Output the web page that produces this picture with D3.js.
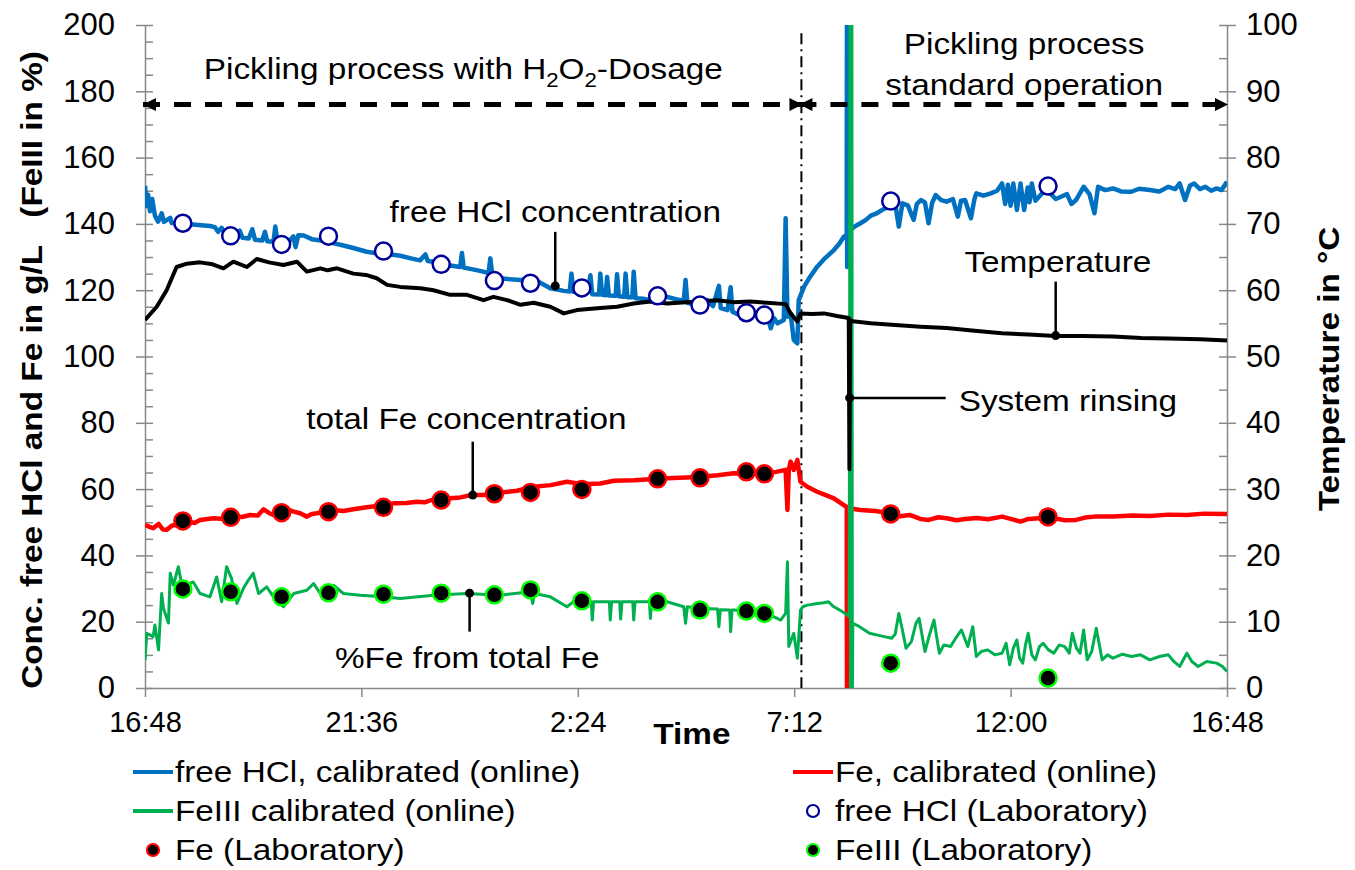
<!DOCTYPE html>
<html>
<head>
<meta charset="utf-8">
<script src="https://cdn.jsdelivr.net/npm/d3@7"></script>
<style>
  body { margin: 0; background: #fff; }
  svg { font-family: "Liberation Sans", Arial, sans-serif; }
</style>
</head>
<body>
<svg id="chart" width="1355" height="870"></svg>
<script>
// time is in hours after 16:48 (start of the run)
const timeTicks = [0, 4.8, 9.6, 14.4, 19.2, 24];
const timeLabels = ["16:48", "21:36", "2:24", "7:12", "12:00", "16:48"];

// online signals [hours, value]
const hclOnline = [[0.00,151.5],[0.03,145.5],[0.07,148.8],[0.11,143.8],[0.16,147.5],[0.22,142.5],[0.29,140.7],[0.37,143.2],[0.42,140.6],[0.56,141.8],[0.59,140.3],[0.80,140.2],[1.00,139.9],[1.44,139.4],[1.55,139.0],[1.62,137.6],[1.70,138.8],[1.76,137.2],[1.95,136.1],[2.10,138.0],[2.16,135.8],[2.30,135.6],[2.38,138.4],[2.44,135.2],[2.60,135.0],[2.66,137.6],[2.71,134.8],[2.85,134.6],[2.89,139.2],[2.94,134.4],[3.15,134.0],[3.29,136.2],[3.34,133.0],[3.40,136.6],[3.52,136.5],[3.70,135.4],[3.95,134.9],[4.17,134.2],[4.40,133.5],[4.60,132.8],[4.92,131.6],[5.20,131.0],[5.45,130.8],[5.66,130.4],[5.90,129.6],[6.10,129.0],[6.22,130.8],[6.27,128.8],[6.40,128.6],[6.70,127.6],[6.99,127.0],[7.03,131.2],[7.07,126.8],[7.30,126.2],[7.50,125.6],[7.62,125.2],[7.66,129.6],[7.70,124.8],[7.88,123.6],[8.10,123.3],[8.33,123.1],[8.62,123.5],[8.80,122.0],[8.99,120.6],[9.29,119.8],[9.42,119.6],[9.46,125.0],[9.50,119.5],[9.81,119.2],[9.88,124.5],[9.92,118.8],[10.07,118.7],[10.10,125.0],[10.14,118.6],[10.22,118.5],[10.25,124.0],[10.29,118.4],[10.44,118.3],[10.47,124.8],[10.51,118.2],[10.63,118.0],[10.66,125.0],[10.70,117.9],[10.81,117.9],[10.84,125.6],[10.88,117.6],[11.05,117.4],[11.21,117.0],[11.40,117.8],[11.58,118.0],[11.80,117.2],[11.95,116.8],[11.99,123.1],[12.03,116.2],[12.20,115.6],[12.32,115.0],[12.47,117.0],[12.60,115.2],[12.73,121.3],[12.77,114.6],[12.92,114.0],[12.99,120.9],[13.03,113.5],[13.20,112.4],[13.43,112.0],[13.60,112.8],[13.80,112.5],[13.88,108.5],[13.95,111.6],[14.03,110.0],[14.17,111.0],[14.21,141.7],[14.25,112.0],[14.32,113.0],[14.39,105.0],[14.47,104.0],[14.50,117.0],[14.62,121.1],[14.75,124.0],[14.91,127.1],[15.05,129.2],[15.28,132.1],[15.40,134.0],[15.50,136.1],[15.565,136.8],[15.57,205],[15.575,127.0],[15.59,137.5],[15.74,139.2],[15.87,140.2],[15.99,141.2],[16.10,142.5],[16.23,143.2],[16.40,144.6],[16.56,145.7],[16.65,145.2],[16.72,139.2],[16.80,146.2],[16.92,145.6],[17.05,141.2],[17.12,146.0],[17.21,147.2],[17.30,146.5],[17.38,140.2],[17.46,146.4],[17.54,148.7],[17.66,147.2],[17.78,146.7],[17.92,147.5],[18.03,142.2],[18.10,147.0],[18.19,147.2],[18.32,141.7],[18.40,147.6],[18.44,149.2],[18.60,148.5],[18.76,149.2],[18.90,150.0],[19.01,152.2],[19.08,146.0],[19.14,151.8],[19.20,145.5],[19.26,152.2],[19.34,144.2],[19.42,152.2],[19.50,144.2],[19.58,151.0],[19.62,146.5],[19.67,152.2],[19.75,147.0],[19.83,148.2],[19.95,150.0],[20.08,149.2],[20.20,147.5],[20.32,148.2],[20.45,149.0],[20.55,146.0],[20.65,147.2],[20.82,151.2],[20.95,149.0],[21.06,143.2],[21.14,151.2],[21.30,150.2],[21.47,150.7],[21.65,149.8],[21.88,149.7],[22.05,150.6],[22.29,150.2],[22.50,149.8],[22.70,151.2],[22.85,150.5],[22.95,152.2],[23.07,147.2],[23.18,151.6],[23.27,152.2],[23.40,150.5],[23.52,151.2],[23.65,150.0],[23.77,150.7],[23.88,150.2],[24.00,152.7]];

const feOnline = [[0.00,49.2],[0.10,48.6],[0.18,48.2],[0.30,49.5],[0.40,47.8],[0.48,47.7],[0.60,49.0],[0.70,49.2],[0.93,50.2],[1.10,49.8],[1.22,50.7],[1.52,51.2],[1.75,51.0],[1.96,51.7],[2.15,51.6],[2.33,52.2],[2.50,52.0],[2.63,53.9],[2.75,52.8],[2.85,52.2],[3.00,53.0],[3.15,53.9],[3.30,53.2],[3.44,52.7],[3.59,51.7],[3.70,52.5],[3.81,52.7],[4.00,53.2],[4.18,53.7],[4.40,53.4],[4.62,53.9],[4.92,54.5],[5.20,55.0],[5.51,55.7],[5.80,55.8],[6.03,56.2],[6.20,56.0],[6.40,56.9],[6.70,57.2],[6.99,57.5],[7.25,58.2],[7.51,58.2],[7.90,59.0],[8.25,59.5],[8.62,60.7],[9.00,61.2],[9.36,62.2],[9.70,61.5],[10.10,61.7],[10.40,62.5],[10.84,62.7],[11.20,63.0],[11.58,63.3],[12.00,63.5],[12.32,63.7],[12.70,64.2],[13.06,64.8],[13.40,64.6],[13.80,64.9],[14.00,65.2],[14.21,65.8],[14.25,53.7],[14.28,65.8],[14.32,68.3],[14.39,65.8],[14.47,68.8],[14.54,62.2],[14.69,60.7],[14.91,59.2],[15.10,58.2],[15.28,57.2],[15.45,55.6],[15.565,54.6],[15.57,0],[15.575,54.3],[15.87,53.7],[16.20,53.4],[16.54,52.7],[16.75,51.8],[16.96,52.2],[17.20,51.0],[17.38,50.7],[17.60,51.5],[17.78,51.2],[18.00,50.6],[18.19,51.0],[18.45,51.3],[18.70,50.9],[19.01,51.7],[19.20,51.0],[19.42,50.2],[19.60,51.0],[19.83,51.2],[20.10,51.4],[20.40,50.6],[20.65,50.7],[20.85,51.4],[21.06,51.7],[21.47,51.7],[21.90,52.0],[22.29,51.9],[22.70,52.3],[23.11,52.2],[23.50,52.6],[24.00,52.5]];

const fe3Online = [[0.00,8.4],[0.04,16.5],[0.18,15.5],[0.22,19.0],[0.30,11.5],[0.37,28.5],[0.41,24.0],[0.52,19.6],[0.56,34.6],[0.63,31.0],[0.74,36.6],[0.81,31.5],[0.93,31.2],[1.07,32.0],[1.22,28.5],[1.44,27.5],[1.59,33.5],[1.70,26.0],[1.81,36.6],[1.92,33.0],[2.04,25.5],[2.18,30.0],[2.29,32.5],[2.40,34.6],[2.52,28.5],[2.70,30.5],[2.85,27.5],[3.07,24.5],[3.30,28.5],[3.59,29.5],[3.74,31.5],[3.89,28.5],[4.18,31.0],[4.40,28.5],[4.77,28.0],[5.29,27.5],[5.66,27.0],[6.40,28.0],[7.14,28.5],[7.88,28.0],[8.55,29.0],[8.60,25.5],[8.64,28.5],[8.99,27.5],[9.36,24.5],[9.50,26.0],[9.73,25.5],[9.90,26.0],[9.92,20.5],[9.95,26.0],[10.30,26.0],[10.32,20.5],[10.35,26.0],[10.53,26.0],[10.55,20.8],[10.58,26.0],[10.82,26.0],[10.84,20.5],[10.87,26.0],[11.19,26.0],[11.21,21.0],[11.24,26.0],[11.58,26.0],[11.95,24.5],[11.99,19.5],[12.03,24.5],[12.32,24.0],[12.70,23.8],[12.73,18.5],[12.76,23.6],[12.97,23.5],[12.99,17.0],[13.02,23.5],[13.06,23.5],[13.80,22.5],[14.10,20.5],[14.21,22.5],[14.25,38.1],[14.28,12.5],[14.39,16.5],[14.47,9.0],[14.54,23.5],[14.59,24.5],[14.69,25.0],[14.92,25.5],[15.06,25.7],[15.16,26.0],[15.28,24.5],[15.41,23.5],[15.58,22.0],[15.62,21.5],[15.64,205],[15.65,-5],[15.66,205],[15.67,-5],[15.68,205],[15.69,-5],[15.70,19.5],[15.85,18.5],[16.07,16.5],[16.30,15.8],[16.56,15.0],[16.64,16.2],[16.72,22.5],[16.80,17.5],[16.88,12.0],[17.00,14.0],[17.10,19.5],[17.17,21.0],[17.30,11.0],[17.40,16.0],[17.50,20.5],[17.62,10.5],[17.72,13.0],[17.87,12.5],[17.98,15.0],[18.11,17.5],[18.25,12.5],[18.36,18.5],[18.44,9.5],[18.55,11.0],[18.69,11.5],[18.85,10.0],[19.01,10.5],[19.10,13.5],[19.18,7.0],[19.26,12.0],[19.34,14.5],[19.40,9.0],[19.47,7.5],[19.53,13.0],[19.59,16.5],[19.67,10.0],[19.75,8.5],[19.84,12.5],[19.92,13.5],[20.04,11.5],[20.16,10.5],[20.28,13.0],[20.40,12.5],[20.50,10.5],[20.57,16.5],[20.66,12.0],[20.74,10.5],[20.82,17.5],[20.90,8.5],[21.00,11.0],[21.10,18.0],[21.23,8.5],[21.35,10.0],[21.47,9.0],[21.68,10.2],[21.88,9.5],[22.08,10.0],[22.29,8.5],[22.50,9.5],[22.70,10.0],[22.82,8.0],[22.95,6.5],[23.11,10.5],[23.22,8.0],[23.36,6.5],[23.55,8.0],[23.77,7.5],[23.90,6.5],[24.00,5.0]];

// temperature in °C (right axis)
const tempOnline = [[0.00,55.5],[0.26,57.5],[0.48,60.0],[0.70,63.5],[0.93,64.0],[1.22,64.2],[1.50,63.9],[1.74,63.3],[1.96,64.3],[2.26,63.5],[2.48,64.7],[2.75,64.2],[3.07,63.8],[3.37,64.3],[3.59,62.8],[3.89,63.3],[4.05,63.0],[4.26,63.3],[4.62,62.5],[4.90,62.3],[5.14,61.8],[5.37,60.8],[5.66,60.5],[6.11,60.3],[6.40,60.0],[6.77,59.3],[7.14,59.3],[7.51,58.5],[7.73,59.0],[8.03,58.5],[8.33,57.8],[8.62,58.1],[8.99,57.5],[9.29,56.5],[9.58,57.0],[10.10,57.3],[10.47,57.5],[10.84,58.0],[11.21,58.3],[11.58,58.0],[12.00,58.2],[12.32,58.3],[12.69,58.5],[13.05,58.2],[13.43,58.3],[13.80,58.1],[14.21,57.9],[14.32,56.5],[14.47,55.3],[14.54,56.5],[14.80,56.4],[15.06,56.5],[15.35,56.1],[15.61,55.8],[15.625,33.0],[15.64,55.5],[15.70,55.3],[16.10,55.0],[16.56,54.8],[17.20,54.5],[17.78,54.3],[18.40,53.9],[19.01,53.5],[19.60,53.3],[20.20,53.1],[20.80,53.1],[21.47,53.0],[22.10,52.8],[22.70,52.7],[23.40,52.6],[24.00,52.4]];

// laboratory samples
const labTimes = [0.84, 1.90, 3.03, 4.07, 5.29, 6.57, 7.75, 8.55, 9.69, 11.37, 12.31, 13.34, 13.74, 16.54, 20.03];
const hclLab = [140.2, 136.4, 133.8, 136.3, 131.8, 127.8, 122.9, 122.1, 120.7, 118.3, 115.5, 113.2, 112.5, 146.9, 151.4];
const feLab = [50.4, 51.5, 52.9, 53.2, 54.5, 56.7, 58.6, 59.0, 59.9, 63.1, 63.4, 65.2, 64.6, 52.5, 51.6];
const fe3Lab = [29.9, 29.0, 27.5, 28.7, 28.3, 28.6, 28.1, 29.6, 26.3, 26.0, 23.5, 23.2, 22.5, 7.5, 3.0];

// phase boundary (dash-dot line) and arrow level
const phaseSwitch = 14.56;
const arrowLevel = 176;

const W = 1355, H = 870;
const margin = { top: 25, right: 128, bottom: 182, left: 145 };
const width = W - margin.left - margin.right;
const height = H - margin.top - margin.bottom;
const axisGrey = "#898989";
const stretch = 1.11;

const svg = d3.select("#chart");
const g = svg.append("g").attr("transform", `translate(${margin.left},${margin.top})`);

const x = d3.scaleLinear().domain([0, 24]).range([0, width]);
const yL = d3.scaleLinear().domain([0, 200]).range([height, 0]);
const yR = d3.scaleLinear().domain([0, 100]).range([height, 0]);

// stretch text sideways, the original lettering is a bit wider than Arial
function widen(sel, k = stretch) {
    sel.each(function () {
        const len = this.getComputedTextLength();
        d3.select(this).attr("textLength", len * k).attr("lengthAdjust", "spacingAndGlyphs");
    });
}

function styleAxis(ax, size) {
    ax.selectAll(".domain").attr("stroke", axisGrey).attr("stroke-width", 1.5);
    ax.selectAll(".tick line").attr("stroke", axisGrey).attr("stroke-width", 1.5);
    ax.selectAll("text").attr("fill", "#000").style("font-size", size + "px")
        .style("font-family", "'Liberation Sans', Arial, sans-serif");
}

// left axis
const axL = g.append("g").call(d3.axisLeft(yL).tickValues(d3.range(0, 201, 20))
    .tickSizeInner(9).tickSizeOuter(0).tickPadding(21));
styleAxis(axL, 31);
const axLm = g.append("g").call(d3.axisRight(yL).tickValues(d3.range(0, 201, 5))
    .tickSize(8).tickFormat(""));
axLm.select(".domain").remove();
styleAxis(axLm, 31);

// right axis
const axR = g.append("g").attr("transform", `translate(${width},0)`)
    .call(d3.axisRight(yR).tickValues(d3.range(0, 101, 10))
        .tickSizeInner(9).tickSizeOuter(0).tickPadding(10));
styleAxis(axR, 31);
const axRm = g.append("g").attr("transform", `translate(${width},0)`)
    .call(d3.axisLeft(yR).tickValues(d3.range(0, 101, 5)).tickSize(8).tickFormat(""));
axRm.select(".domain").remove();
styleAxis(axRm, 31);

// time axis
const axB = g.append("g").attr("transform", `translate(0,${height})`)
    .call(d3.axisBottom(x).tickValues(timeTicks).tickFormat((d, i) => timeLabels[i])
        .tickSizeInner(9).tickSizeOuter(0).tickPadding(14));
styleAxis(axB, 29);

// axis titles
const lt = g.append("text")
    .attr("transform", `translate(${42 - margin.left},${370 - margin.top}) rotate(-90)`)
    .attr("text-anchor", "middle").style("font-size", "30px").style("font-weight", "bold")
    .style("white-space", "pre")
    .text("Conc. free HCl and Fe in g/L   (FeIII in %)");
widen(lt);
const rt = g.append("text")
    .attr("transform", `translate(${1339 - margin.left},${369 - margin.top}) rotate(-90)`)
    .attr("text-anchor", "middle").style("font-size", "30px").style("font-weight", "bold")
    .text("Temperature in °C");
widen(rt);
const bt = g.append("text")
    .attr("x", x(12.13)).attr("y", height + 56)
    .attr("text-anchor", "middle").style("font-size", "30px").style("font-weight", "bold")
    .text("Time");
widen(bt);

// plot clip
svg.append("defs").append("clipPath").attr("id", "plotClip")
    .append("rect").attr("width", width).attr("height", height);

const lineL = d3.line().x((d) => x(d[0])).y((d) => yL(d[1]));
const lineR = d3.line().x((d) => x(d[0])).y((d) => yR(d[1]));

const plot = g.append("g").attr("clip-path", "url(#plotClip)");

// phase boundary
plot.append("line")
    .attr("x1", x(phaseSwitch)).attr("x2", x(phaseSwitch))
    .attr("y1", yL(197.5)).attr("y2", height)
    .attr("stroke", "#000").attr("stroke-width", 2).attr("stroke-dasharray", "11,5,2,5");

const series = [
    { data: hclOnline, color: "#0070C0", w: 4.5, line: lineL },
    { data: feOnline, color: "#FF0000", w: 4.5, line: lineL },
    { data: fe3Online, color: "#00B050", w: 3, line: lineL },
    { data: tempOnline, color: "#000000", w: 4, line: lineR }
];
series.forEach((s) => {
    plot.append("path").datum(s.data)
        .attr("fill", "none").attr("stroke", s.color).attr("stroke-width", s.w)
        .attr("stroke-linejoin", "round").attr("d", s.line);
});

// dashed double arrows
const defs = svg.select("defs");
defs.append("marker").attr("id", "arrowEnd").attr("viewBox", "0 0 10 10")
    .attr("refX", 10).attr("refY", 5).attr("markerWidth", 3).attr("markerHeight", 2.6)
    .attr("orient", "auto").attr("markerUnits", "strokeWidth")
    .append("path").attr("d", "M0,0L10,5L0,10Z").attr("fill", "#000");
defs.append("marker").attr("id", "arrowStart").attr("viewBox", "0 0 10 10")
    .attr("refX", 0).attr("refY", 5).attr("markerWidth", 3).attr("markerHeight", 2.6)
    .attr("orient", "auto").attr("markerUnits", "strokeWidth")
    .append("path").attr("d", "M10,0L0,5L10,10Z").attr("fill", "#000");

[[0, phaseSwitch], [phaseSwitch, 24]].forEach(([a, b]) => {
    g.append("line")
        .attr("x1", x(a) - 2).attr("x2", x(b) + 1)
        .attr("y1", yL(arrowLevel)).attr("y2", yL(arrowLevel))
        .attr("stroke", "#000").attr("stroke-width", 5)
        .attr("stroke-dasharray", "17,14")
        .attr("marker-start", "url(#arrowStart)").attr("marker-end", "url(#arrowEnd)");
});

// lab markers
const labs = g.append("g");
labs.selectAll(".hcl").data(labTimes).join("circle")
    .attr("cx", (d) => x(d)).attr("cy", (d, i) => yL(hclLab[i])).attr("r", 8.5)
    .attr("fill", "#fff").attr("stroke", "#000099").attr("stroke-width", 2.5);
labs.selectAll(".fe").data(labTimes).join("circle")
    .attr("cx", (d) => x(d)).attr("cy", (d, i) => yL(feLab[i])).attr("r", 8.5)
    .attr("fill", "#000").attr("stroke", "#FF0000").attr("stroke-width", 2.5);
labs.selectAll(".fe3").data(labTimes).join("circle")
    .attr("cx", (d) => x(d)).attr("cy", (d, i) => yL(fe3Lab[i])).attr("r", 8.5)
    .attr("fill", "#000").attr("stroke", "#00FF00").attr("stroke-width", 2.5);

// annotations: leader from a dot on the curve to the label
const notes = [
    { text: "free HCl concentration", t: 9.10, from: 121.3, to: 137.6, tx: 9.10, ty: 140.6, anchor: "middle" },
    { text: "total Fe concentration", t: 7.27, from: 58.2, to: 74.3, tx: 7.13, ty: 78.1, anchor: "middle" },
    { text: "%Fe from total Fe", t: 7.20, from: 28.6, to: 17.0, tx: 7.15, ty: 6.0, anchor: "middle" },
    { text: "Temperature", t: 20.20, from: 106.3, to: 122.6, tx: 20.25, ty: 125.5, anchor: "middle" }
];
notes.forEach((n) => {
    g.append("line").attr("x1", x(n.t)).attr("x2", x(n.t))
        .attr("y1", yL(n.from)).attr("y2", yL(n.to))
        .attr("stroke", "#000").attr("stroke-width", 2.5);
    g.append("circle").attr("cx", x(n.t)).attr("cy", yL(n.from)).attr("r", 4.5).attr("fill", "#000");
    const tx = g.append("text").attr("x", x(n.tx)).attr("y", yL(n.ty))
        .attr("text-anchor", n.anchor).style("font-size", "30px").text(n.text);
    widen(tx);
});

// system rinsing note (horizontal leader)
const rinse = { t: 15.63, v: 87.5, end: 17.76, tx: 18.05, ty: 83.6 };
g.append("line").attr("x1", x(rinse.t)).attr("x2", x(rinse.end))
    .attr("y1", yL(rinse.v)).attr("y2", yL(rinse.v))
    .attr("stroke", "#000").attr("stroke-width", 2.5);
g.append("circle").attr("cx", x(rinse.t)).attr("cy", yL(rinse.v)).attr("r", 4.5).attr("fill", "#000");
widen(g.append("text").attr("x", x(rinse.tx)).attr("y", yL(rinse.ty))
    .style("font-size", "30px").text("System rinsing"));

// phase labels
const p1 = g.append("text").attr("x", x(7.06)).attr("y", yL(183.7))
    .attr("text-anchor", "middle").style("font-size", "30px");
p1.append("tspan").text("Pickling process with H");
p1.append("tspan").attr("dy", 8).style("font-size", "20px").text("2");
p1.append("tspan").attr("dy", -8).text("O");
p1.append("tspan").attr("dy", 8).style("font-size", "20px").text("2");
p1.append("tspan").attr("dy", -8).text("-Dosage");
widen(p1);
widen(g.append("text").attr("x", x(19.5)).attr("y", yL(191.3))
    .attr("text-anchor", "middle").style("font-size", "30px").text("Pickling process"));
widen(g.append("text").attr("x", x(19.5)).attr("y", yL(178.9))
    .attr("text-anchor", "middle").style("font-size", "30px").text("standard operation"));

// legend
const legendItems = [
    { label: "free HCl, calibrated (online)", kind: "line", color: "#0070C0", col: 0, row: 0 },
    { label: "Fe, calibrated (online)", kind: "line", color: "#FF0000", col: 1, row: 0 },
    { label: "FeIII calibrated (online)", kind: "line", color: "#00B050", col: 0, row: 1 },
    { label: "free HCl (Laboratory)", kind: "open", color: "#000099", col: 1, row: 1 },
    { label: "Fe (Laboratory)", kind: "dot", color: "#FF0000", col: 0, row: 2 },
    { label: "FeIII (Laboratory)", kind: "dot", color: "#00FF00", col: 1, row: 2 }
];
const colX = [133, 793];
const rowY = [772, 811, 850];
const legend = svg.append("g");
legendItems.forEach((it) => {
    const lx = colX[it.col], ly = rowY[it.row];
    if (it.kind === "line") {
        legend.append("line").attr("x1", lx).attr("x2", lx + 40).attr("y1", ly).attr("y2", ly)
            .attr("stroke", it.color).attr("stroke-width", 4);
    } else {
        legend.append("circle").attr("cx", lx + 20).attr("cy", ly).attr("r", 6)
            .attr("fill", it.kind === "open" ? "#fff" : "#000")
            .attr("stroke", it.color).attr("stroke-width", 2.2);
    }
    widen(legend.append("text").attr("x", lx + 42).attr("y", ly + 10)
        .style("font-size", "30px").text(it.label));
});
</script>
</body>
</html>
